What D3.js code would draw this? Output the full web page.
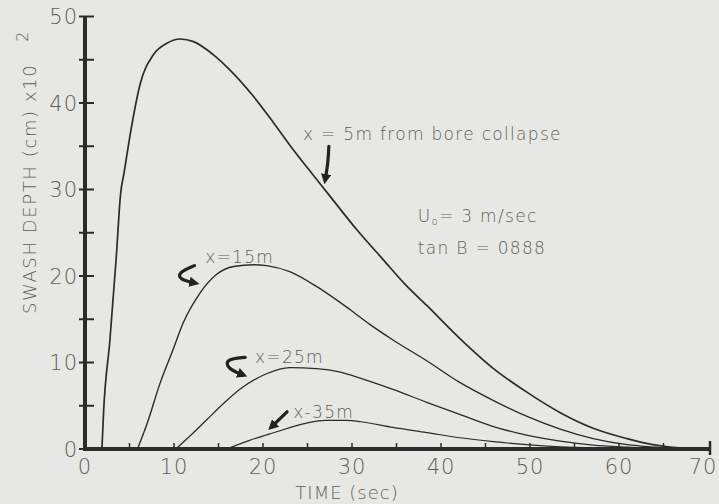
<!DOCTYPE html>
<html><head><meta charset="utf-8">
<script src="https://cdn.jsdelivr.net/npm/d3@7"></script>
<style>
html,body{margin:0;padding:0;background:#e7e7e3;}
svg{display:block;}
text{font-family:"DejaVu Sans",sans-serif;}
</style></head>
<body>
<svg id="chart" width="719" height="504"></svg>
<script>
// ---- data (time in sec, swash depth in cm x10^2) ----
const xTicks = [0,10,20,30,40,50,60,70];
const yTicks = [0,10,20,30,40,50];
const seriesNames = ["x = 5m", "x = 15m", "x = 25m", "x = 35m"];
const curve5m = [[1.9,0],[2.1,4.5],[2.8,12.6],[3.5,22],[4.0,29.5],[4.4,32],[5.1,36.5],[6.2,42.2],[7.7,45.6],[9.2,46.9],[10.7,47.4],[12.2,47.1],[14.4,45.6],[16.3,43.8],[18.9,40.8],[21.2,37.7],[23.4,34.6],[25.7,31.6],[27.7,29.0],[30.5,25.4],[33.5,21.9],[36,19.0],[38.4,16.6],[42.1,12.8],[45.9,9.3],[49.6,6.6],[53.4,4.2],[57.1,2.4],[60.9,1.2],[63.8,0.5],[67,0.1],[70,0]];
const curve15m = [[5.9,0],[7,3],[8.4,7.5],[9.9,11.5],[11,14.5],[12.9,18.0],[14.8,20.2],[16.7,21.1],[19,21.3],[20.4,21.2],[23,20.5],[26,18.8],[29.8,16.1],[32,14.4],[34.6,12.6],[38.4,10.2],[42.1,7.7],[45.9,5.6],[49.6,3.8],[53.4,2.3],[57.1,1.2],[60.9,0.5],[64,0.2],[67,0]];
const curve25m = [[10.2,0],[12,1.7],[13.7,3.4],[15.5,5.2],[17.4,6.9],[20.4,8.7],[23,9.4],[26,9.3],[28.7,8.9],[30.9,8.2],[34.6,6.9],[38.4,5.4],[42.1,4.0],[45.9,2.6],[49.6,1.6],[53.4,0.9],[57.1,0.45],[60.9,0.2],[65,0]];
const curve35m = [[15.9,0],[18.5,1.0],[21.1,1.85],[24.9,3.0],[27,3.3],[29.4,3.3],[31,3.15],[34.6,2.5],[38.4,1.9],[42.1,1.3],[45.9,0.85],[49.6,0.5],[53.4,0.25],[58,0.1],[63,0]];
const seriesData = [curve5m, curve15m, curve25m, curve35m];
const labels = ["x = 5m from bore collapse", "x=15m", "x=25m", "x-35m"];
// annotation anchors in data units [t, depth]
const labelPos = [[24.5,35.7],[13.5,21.5],[19.1,10.0],[23.4,3.6]];
const xTitle = "TIME (sec)";
const yTitle = "SWASH DEPTH (cm) x10";
const params = ["3 m/sec", "tan B = 0888"];

const W = 719;
const svg = d3.select("#chart");
const x = d3.scaleLinear().domain([0,70]).range([85,708]);
const y = d3.scaleLinear().domain([0,50]).range([449,16.5]);
const ink = "#2b2b2b", grey = "#5e5e5e";

// curves
const line = d3.line().x(d=>x(d[0])).y(d=>y(d[1])).curve(d3.curveMonotoneX);
const widths = [1.7,1.4,1.3,1.2];
svg.append("g").selectAll("path").data(seriesData).join("path")
  .attr("d", line).attr("fill","none").attr("stroke", ink)
  .attr("stroke-width", (d,i)=>widths[i]);

// axes
const ax = svg.append("g").attr("stroke", ink);
ax.append("line").attr("x1", x(0)-1).attr("x2", x(70)+3).attr("y1", y(0)).attr("y2", y(0)).attr("stroke-width",4);
ax.append("line").attr("x1", x(0)).attr("x2", x(0)).attr("y1", y(50)).attr("y2", y(0)+2).attr("stroke-width",4);
ax.selectAll(".yt").data(d3.range(0,51,5)).join("line")
  .attr("x1", x(0)-6).attr("x2", x(0)+9).attr("y1", d=>y(d)).attr("y2", d=>y(d)).attr("stroke-width",2);
ax.selectAll(".xt").data(d3.range(5,70,5)).join("line")
  .attr("x1", d=>x(d)).attr("x2", d=>x(d)).attr("y1", y(0)-6).attr("y2", y(0)).attr("stroke-width",1.5);
ax.append("line").attr("x1", x(70)+2).attr("x2", x(70)+2).attr("y1", y(0)-8).attr("y2", y(0)+6).attr("stroke-width",2.5);

// tick labels
const tl = svg.append("g").attr("fill", grey).attr("font-size", 21).attr("font-weight", 200).attr("letter-spacing", 1);
tl.selectAll(".yl").data(yTicks).join("text")
  .attr("x", x(0)-7).attr("y", d=>y(d)).attr("dy","0.36em").attr("text-anchor","end").text(d=>d);
tl.selectAll(".xl").data(xTicks).join("text")
  .attr("x", d=>Math.min(x(d), W-16)).attr("y", y(0)+25).attr("text-anchor","middle").text(d=>d);

// axis titles
svg.append("text").attr("x", x(0)+262).attr("y", 499).attr("text-anchor","middle")
  .attr("fill", grey).attr("font-size", 18).attr("font-weight",200).attr("letter-spacing",1).text(xTitle);
const yt = svg.append("text").attr("transform","translate(36,314) rotate(-90)")
  .attr("fill", grey).attr("font-size", 18).attr("font-weight",200).attr("letter-spacing",1.6);
yt.append("tspan").text(yTitle);
yt.append("tspan").attr("dx", 22).attr("dy", -8).attr("font-size", 16).text("2");

// series labels
const an = svg.append("g").attr("fill", grey).attr("font-size", 17).attr("font-weight",200).attr("letter-spacing",1.3);
an.selectAll("text").data(labels).join("text")
  .attr("x", (d,i)=>x(labelPos[i][0])).attr("y", (d,i)=>y(labelPos[i][1])).text(d=>d);

// parameters
const p1 = an.append("text").attr("x", x(37.4)).attr("y", y(26.2));
p1.append("tspan").text("U");
p1.append("tspan").attr("font-size", 10).attr("dy", 3).text("o");
p1.append("tspan").attr("dy", -3).text("= " + params[0]);
an.append("text").attr("x", x(37.4)).attr("y", y(22.5)).text(params[1]);

// arrows (in data units)
const arrows = [
  [[27.4,35.0],[27.3,33.0],[27.0,31.2]],
  [[12.3,21.2],[10.5,20.4],[10.6,19.6],[12.3,19.2]],
  [[18.0,10.6],[15.8,10.4],[16.0,9.3],[17.7,8.6]],
  [[22.7,4.3],[21.0,2.6]]
];
const al = d3.line().x(d=>x(d[0])).y(d=>y(d[1])).curve(d3.curveBasis);
const defs = svg.append("defs");
defs.append("marker").attr("id","ah").attr("viewBox","0 0 10 10").attr("refX",5).attr("refY",5)
  .attr("markerWidth",3.2).attr("markerHeight",3.2).attr("orient","auto")
  .append("path").attr("d","M0,0 L10,5 L0,10 Z").attr("fill","#222");
svg.append("g").selectAll("path").data(arrows).join("path")
  .attr("d", al).attr("fill","none").attr("stroke","#222").attr("stroke-width",3.2)
  .attr("stroke-linecap","round").attr("marker-end","url(#ah)");
</script>
</body></html>
